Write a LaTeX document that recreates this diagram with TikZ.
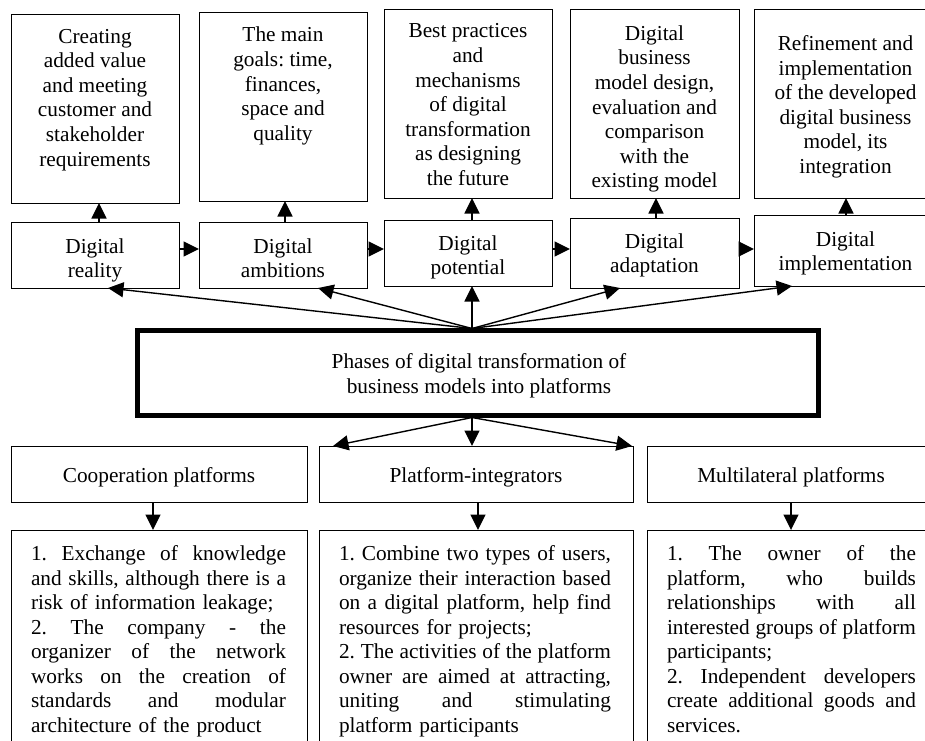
\documentclass[tikz,border=0pt]{standalone}
\usepackage{fontspec}
\setmainfont{Liberation Serif}
\usetikzlibrary{arrows.meta,calc}
\newcommand\jline[1]{\leavevmode\hbox to \hsize{\spaceskip=0pt\xspaceskip=0pt #1}}
\begin{document}
\begin{tikzpicture}[x=1pt,y=-1pt,
  box/.style={draw, line width=0.9pt, anchor=north west, inner sep=0pt, outer sep=0pt},
  txt/.style={font=\fontsize{21.3}{24.6}\selectfont\frenchspacing, align=center, inner sep=0pt, outer sep=0pt, anchor=north},
  para/.style={font=\fontsize{21.3}{24.5}\selectfont\frenchspacing, align=left, inner sep=0pt, outer sep=0pt, anchor=north west},
  arr/.style={line width=1.4pt, -{Triangle[length=15.5pt,width=15pt]}},
]
\useasboundingbox (0,0) rectangle (925,740);
\clip (0,0) rectangle (925,740);

% top row boxes
\node[box, minimum width=168pt, minimum height=189pt] (t1) at (11,14) {};
\node[box, minimum width=168pt, minimum height=189pt] (t2) at (199,12) {};
\node[box, minimum width=168pt, minimum height=189pt] (t3) at (384,9) {};
\node[box, minimum width=169pt, minimum height=189pt] (t4) at (570,9) {};
\node[box, minimum width=183pt, minimum height=189pt] (t5) at (754,9) {};

\node[txt] (tt1) at (95,29) {Creating\\added value\\and meeting\\customer and\\stakeholder\\requirements};
\node[txt] (tt2) at (283,27.2) {The main\\goals: time,\\finances,\\space and\\quality};
\node[txt] (tt3) at (468,23.8) {Best practices\\and\\mechanisms\\of digital\\transformation\\as designing\\the future};
\node[txt] (tt4) at (654.5,25.5) {Digital\\business\\model design,\\evaluation and\\comparison\\with the\\existing model};
\node[txt] (tt5) at (845.5,35.5) {Refinement and\\implementation\\of the developed\\digital business\\model, its\\integration};

% phase boxes
\node[box, minimum width=168pt, minimum height=66pt] (p1) at (11,222) {};
\node[box, minimum width=168pt, minimum height=66pt] (p2) at (199,222) {};
\node[box, minimum width=168pt, minimum height=66pt] (p3) at (384,220) {};
\node[box, minimum width=169pt, minimum height=70pt] (p4) at (570,218) {};
\node[box, minimum width=183pt, minimum height=71pt] (p5) at (754,215) {};

\node[txt] (pt1) at (95,238.5) {Digital\\reality};
\node[txt] (pt2) at (283,238.5) {Digital\\ambitions};
\node[txt] (pt3) at (468,235.5) {Digital\\potential};
\node[txt] (pt4) at (654.5,233.5) {Digital\\adaptation};
\node[txt] (pt5) at (845.5,231.5) {Digital\\implementation};

% central box
\node[box, line width=4.5pt, minimum width=681pt, minimum height=85pt] (c) at (137.5,330.5) {};
\node[txt] (ct) at (479,353.5) {Phases of digital transformation of\\business models into platforms};

% platform boxes
\node[box, minimum width=296pt, minimum height=56pt] (a) at (11,446) {};
\node[box, minimum width=314pt, minimum height=56pt] (b) at (319,446) {};
\node[box, minimum width=288pt, minimum height=56pt] (m) at (647,446) {};
\node[txt] (at) at (159,467.5) {Cooperation platforms};
\node[txt] (bt) at (476,467.5) {Platform-integrators};
\node[txt] (mt) at (791,467.5) {Multilateral platforms};

% description boxes
\node[box, minimum width=296pt, minimum height=230pt] (a2) at (11,530) {};
\node[box, minimum width=314pt, minimum height=230pt] (b2) at (319,530) {};
\node[box, minimum width=288pt, minimum height=230pt] (m2) at (647,530) {};

\node[para, text width=255pt] (a2t) at (31,545.5) {%
\jline{1. Exchange of knowledge}\\
\jline{and skills, although there is a}\\
risk of information leakage;\\
\jline{2. The company - the}\\
\jline{organizer of the network}\\
\jline{works on the creation of}\\
\jline{standards and modular}\\
architecture of the product};

\node[para, text width=272pt] (b2t) at (339,545.5) {%
\jline{1. Combine two types of users,}\\
\jline{organize their interaction based}\\
\jline{on a digital platform, help find}\\
resources for projects;\\
\jline{2. The activities of the platform}\\
\jline{owner are aimed at attracting,}\\
\jline{uniting and stimulating}\\
platform participants};

\node[para, text width=249pt] (m2t) at (667,545.5) {%
\jline{1. The owner of the}\\
\jline{platform, who builds}\\
\jline{relationships with all}\\
\jline{interested groups of platform}\\
participants;\\
\jline{2. Independent developers}\\
\jline{create additional goods and}\\
services.};

% up arrows phase -> top boxes
\draw[arr] ($(p1.north west)+(88,0)$) -- ($(t1.south west)+(88,0)$);
\draw[arr] ($(p2.north west)+(86,0)$) -- ($(t2.south west)+(86,0)$);
\draw[arr] ($(p3.north west)+(88,0)$) -- ($(t3.south west)+(88,0)$);
\draw[arr] ($(p4.north west)+(86,0)$) -- ($(t4.south west)+(86,0)$);
\draw[arr] ($(p5.north west)+(92,0)$) -- ($(t5.south west)+(92,0)$);

% horizontal arrows between phases
\draw[arr] ($(p1.north east)+(0,27)$) -- ($(p2.north west)+(0,27)$);
\draw[arr] ($(p2.north east)+(0,27)$) -- ($(p3.north west)+(0,29)$);
\draw[arr] ($(p3.north east)+(0,29)$) -- ($(p4.north west)+(0,31)$);
\draw[arr] ($(p4.north east)+(0,31)$) -- ($(p5.north west)+(0,34)$);

% central -> phases
\coordinate (ctop) at ($(c.north west)+(334.5,-2)$);
\draw[arr] (ctop) -- ($(p1.south west)+(97,0)$);
\draw[arr] (ctop) -- ($(p2.south west)+(119,0)$);
\draw[arr] (ctop) -- ($(p3.south west)+(88,0)$);
\draw[arr] (ctop) -- ($(p4.south west)+(50,0)$);
\draw[arr] (ctop) -- ($(p5.south west)+(38,0)$);

% central -> platform boxes
\coordinate (cbot) at ($(c.south west)+(334.5,2)$);
\draw[arr] (cbot) -- ($(b.north west)+(14,0)$);
\draw[arr] (cbot) -- ($(b.north west)+(153,0)$);
\draw[arr] (cbot) -- ($(b.north east)+(-1,0)$);

% platform -> descriptions
\draw[arr] ($(a.south west)+(142,0)$) -- ($(a2.north west)+(142,0)$);
\draw[arr] ($(b.south west)+(159,0)$) -- ($(b2.north west)+(159,0)$);
\draw[arr] ($(m.south west)+(144,0)$) -- ($(m2.north west)+(144,0)$);
\end{tikzpicture}
\end{document}
